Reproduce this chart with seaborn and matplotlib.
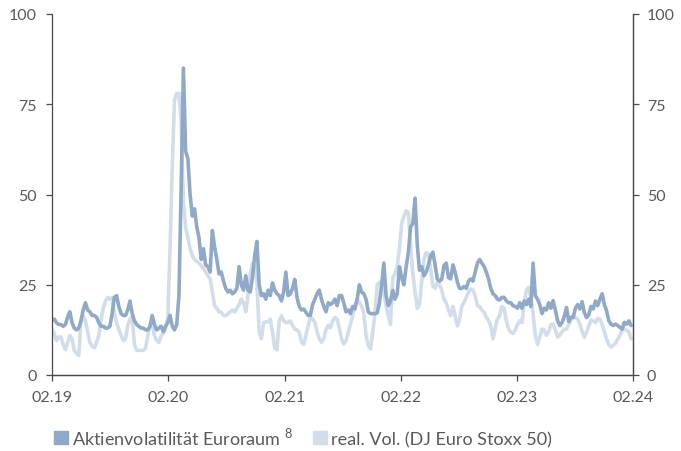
import pandas as pd
import seaborn as sns
import matplotlib.pyplot as plt
from matplotlib.patches import Patch

# ----------------------------------------
# Data (weekly readings, Feb 2019 - Jan 2024)
# ----------------------------------------

start_date = "2019-02-01"

implied_vol = [
    15, 15.5, 14.5, 14, 14, 13.5, 14, 16, 17.5, 14.5,
    13, 12.5, 13, 15, 18, 20, 18, 17.5, 16.5, 16.5,
    16, 14.5, 13.5, 13.5, 13, 13, 13.5, 17, 21.5, 22,
    19, 17, 16.5, 16.5, 18, 20.5, 17, 15, 14, 13.5,
    13, 13, 12.5, 12.5, 13.5, 16.5, 14, 12.5, 13, 13.5,
    12, 13.5,
    14.5, 16.5, 13.5, 12.5, 14, 22, 52, 85, 62, 60,
    50, 44, 46, 41, 38, 32, 35, 30.5, 30, 28.5,
    40, 35.5, 32, 28, 28.5, 26, 24, 23, 23.5, 22.5,
    23, 24, 30, 25, 23.5, 27.5, 23.5, 23, 27, 33,
    37, 25, 22, 22.5, 21, 23.5, 22, 25.5, 23.5, 22.5,
    22, 20.5,
    23, 28.5, 22, 22.5, 24, 26.5, 21.5, 19, 18, 18.3,
    17.4, 16.5, 16.5, 19.5, 21, 22.5, 23.5, 21, 19, 17.5,
    20, 19.5, 20, 21, 19.2, 22, 22, 20, 17.5, 18,
    17, 19, 18.3, 21, 25, 23, 22.5, 21, 17.5, 17,
    17, 17, 17.2, 20, 25, 31, 22, 19.2, 20.5, 23.4,
    21, 22.5,
    30, 27, 25, 30, 34, 41, 42, 49, 36, 29,
    30, 27.5, 28.5, 30.5, 33, 34, 30.5, 26.6, 26, 26.6,
    30.3, 31, 27, 26.6, 30.5, 28.5, 25.7, 24, 24, 24.5,
    24, 26, 26.6, 26, 28.5, 31, 32, 31, 30, 28.5,
    26.6, 24, 22.5, 22, 21, 20.8, 21.5, 21.5, 20.5, 20,
    20, 19.2,
    19, 18.5, 20, 18.5, 20.5, 19.5, 21, 19, 31, 22,
    21, 19.5, 17, 18.5, 18, 20, 18.5, 20.6, 18, 15,
    13.7, 14.5, 16.2, 18.7, 14.8, 16, 15.9, 18.5, 19.5, 18.3,
    20.3, 17.3, 15.9, 16.7, 19, 18.3, 20.5, 19.2, 21, 22.5,
    19.5, 17.8, 15, 14.1, 13.7, 14.1, 13.7, 13.2, 12.7, 14.6,
    14.1, 15, 13.7,
]

realized_vol = [
    12.7, 11.5, 9.5, 10.5, 10.5, 8.5, 7, 9, 10.9, 10,
    6.8, 6, 5.4, 15, 16.5, 15, 12, 9, 8, 7.5,
    9, 11, 15, 18.5, 20.5, 21.5, 21, 21.5, 17, 14.5,
    12.5, 11, 9.5, 10, 13.5, 15.5, 16, 8.5, 6.8, 6.8,
    6.8, 6.8, 7.5, 10.9, 14, 14, 10.9, 9.5, 9, 10.9,
    11.5, 13,
    16, 35, 58, 76, 78, 78, 70, 48, 41, 38,
    35, 33, 32, 31.5, 31, 30.3, 29.5, 28.5, 27.5, 26.6,
    23, 19.2, 18.5, 17.5, 17.4, 16.5, 16.4, 17, 17.5, 18,
    17.4, 18.5, 19.5, 21, 20, 17.5, 22, 28, 31, 30,
    26, 12, 10, 14.5, 14.7, 14.7, 15.5, 12, 7.5, 7,
    15, 16.4,
    15, 14.5, 14.6, 15, 13.7, 12.7, 12.5, 11.8, 9.1, 8.5,
    11, 13.7, 16, 15.5, 14.6, 12, 10, 9.1, 10, 12.5,
    13.7, 13, 15, 15.9, 15.5, 13, 10, 8.6, 9.5, 11.8,
    14, 16.4, 19.2, 21, 20.1, 19.2, 17, 10.9, 8.2, 7.2,
    11.8, 17, 25, 25.7, 24.7, 22.9, 19.2, 16.4, 14, 27,
    28, 30,
    35, 42, 44, 45.5, 45, 36, 28, 23, 18.5, 19.5,
    26, 32, 33.9, 33.5, 29.4, 24.7, 24, 25.7, 25, 23.4,
    21, 20, 18, 16.4, 19, 16.5, 13.6, 15.5, 19, 20.1,
    21.5, 22.9, 23.8, 23.5, 22, 19.2, 19, 18, 17.4, 16,
    15, 13.6, 10, 13, 15.5, 16.5, 19, 18.5, 15, 12.7,
    11.9, 11.5,
    12.5, 14, 15, 14.5, 20, 23.5, 24.3, 21.5, 17, 11,
    8.5, 10.5, 12.7, 12.5, 11, 12, 14, 14.1, 12.5, 10.5,
    11, 12, 12.7, 12.7, 14, 15.2, 16.4, 15.9, 15.5, 14.1,
    12, 10.5, 11.8, 13.5, 15.2, 15, 14.5, 15.7, 15.5, 14,
    12, 10, 8.4, 7.7, 8.2, 8.8, 10, 11, 12.4, 12.7,
    12.4, 12, 10,
]

tick_dates = ["2019-02-01", "2020-02-01", "2021-02-01",
              "2022-02-01", "2023-02-01", "2024-02-01"]
tick_labels = ["02.19", "02.20", "02.21", "02.22", "02.23", "02.24"]
y_ticks = [0, 25, 50, 75, 100]

series_names = [r"Aktienvolatilität Euroraum $^{\mathrm{8}}$", "real. Vol. (DJ Euro Stoxx 50)"]

# ----------------------------------------
# Style
# ----------------------------------------

DARK = "#8fa9c8"
LIGHT = "#d2ddea"
TEXT = "#595959"
SPINE = "#4a4a4a"

sns.set_style("white")
plt.rcParams["font.family"] = ["Lato", "DejaVu Sans"]
plt.rcParams["mathtext.fontset"] = "custom"
plt.rcParams["mathtext.rm"] = "Lato"

dates = pd.date_range(start_date, periods=len(implied_vol), freq="7D")
df = pd.DataFrame({"date": dates, "implied": implied_vol, "realized": realized_vol})

# ----------------------------------------
# Plot
# ----------------------------------------

fig = plt.figure(figsize=(6.81, 4.52), dpi=100)
ax = fig.add_axes([52 / 681, 76 / 452, 581 / 681, 361 / 452])

sns.lineplot(data=df, x="date", y="realized", ax=ax, color=LIGHT, lw=2.6)
sns.lineplot(data=df, x="date", y="implied", ax=ax, color=DARK, lw=2.6)

ax.set_xlim(pd.Timestamp(tick_dates[0]), pd.Timestamp(tick_dates[-1]))
ax.set_ylim(0, 100)
ax.set_xticks(pd.to_datetime(tick_dates))
ax.set_xticklabels(tick_labels)
ax.set_yticks(y_ticks)
ax.set_xlabel("")
ax.set_ylabel("")

ax2 = ax.twinx()
ax2.set_ylim(0, 100)
ax2.set_yticks(y_ticks)

for a in (ax, ax2):
    a.spines["top"].set_visible(False)
    for s in ("left", "right", "bottom"):
        a.spines[s].set_color(SPINE)
        a.spines[s].set_linewidth(0.9)
    a.tick_params(colors=SPINE, labelcolor=TEXT, labelsize=11.5, length=4, width=0.9)

ax.tick_params(axis="y", pad=7, left=True)
ax.tick_params(axis="x", pad=7, bottom=True)
ax2.tick_params(axis="y", right=True, pad=6)
ax2.spines["left"].set_visible(False)

handles = [Patch(color=DARK), Patch(color=LIGHT)]
fig.legend(handles, series_names, loc="center left",
           bbox_to_anchor=(54 / 681, 1 - 437 / 452), ncol=2, frameon=False,
           handlelength=0.75, handleheight=0.75, handletextpad=0.25,
           columnspacing=1.1, fontsize=13, labelcolor=TEXT,
           borderaxespad=0, borderpad=0)

fig.savefig("out.png", dpi=100)
